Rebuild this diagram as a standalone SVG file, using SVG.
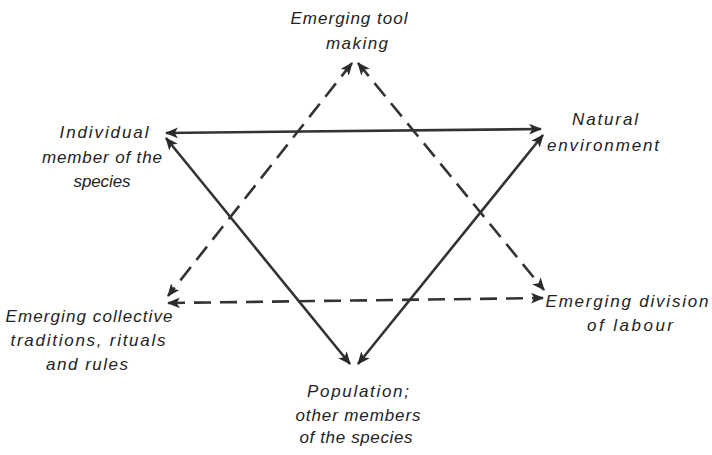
<svg xmlns="http://www.w3.org/2000/svg" width="712" height="455" viewBox="0 0 712 455">
<defs>
<style>
.lbl{font-family:"Liberation Sans","DejaVu Sans",sans-serif;font-style:italic;font-size:17px;fill:#222;text-anchor:middle}
.ln{stroke:#333;stroke-width:2.6;fill:none}
.dash{stroke-dasharray:17 9}
</style>
<marker id="ah" viewBox="0 0 12 10" refX="11" refY="5" markerWidth="13" markerHeight="11" markerUnits="userSpaceOnUse" orient="auto-start-reverse">
<path d="M0,0 L12,5 L0,10 L3,5 Z" fill="#2a2a2a"/>
</marker>
</defs>
<rect width="712" height="455" fill="#fff"/>
<g id="connectors">
<line class="ln" x1="166" y1="133" x2="541" y2="129" marker-start="url(#ah)" marker-end="url(#ah)"/>
<line class="ln" x1="166" y1="138" x2="350" y2="364" marker-start="url(#ah)" marker-end="url(#ah)"/>
<line class="ln" x1="358" y1="364" x2="543" y2="135" marker-start="url(#ah)" marker-end="url(#ah)"/>
<line class="ln dash" x1="352" y1="63" x2="168" y2="296" marker-start="url(#ah)" marker-end="url(#ah)"/>
<line class="ln dash" x1="358" y1="63" x2="544" y2="290" marker-start="url(#ah)" marker-end="url(#ah)"/>
<line class="ln dash" x1="168" y1="303" x2="543" y2="298" marker-start="url(#ah)" marker-end="url(#ah)"/>
</g>
<g id="tool">
<text class="lbl" x="349" y="24" textLength="117">Emerging tool</text>
<text class="lbl" x="357" y="49" textLength="62">making</text>
</g>
<g id="individual">
<text class="lbl" x="104" y="138" textLength="89">Individual</text>
<text class="lbl" x="102" y="163" textLength="120">member of the</text>
<text class="lbl" x="102" y="187" textLength="57">species</text>
</g>
<g id="natural">
<text class="lbl" x="605" y="125" textLength="66">Natural</text>
<text class="lbl" x="603" y="151" textLength="112">environment</text>
</g>
<g id="collective">
<text class="lbl" x="89" y="322" textLength="167">Emerging collective</text>
<text class="lbl" x="88" y="346" textLength="155">traditions, rituals</text>
<text class="lbl" x="87" y="370" textLength="82">and rules</text>
</g>
<g id="division">
<text class="lbl" x="627" y="307" textLength="163">Emerging division</text>
<text class="lbl" x="630" y="331" textLength="86">of labour</text>
</g>
<g id="population">
<text class="lbl" x="358" y="397" textLength="102">Population;</text>
<text class="lbl" x="358" y="421" textLength="125">other members</text>
<text class="lbl" x="356" y="443" textLength="113">of the species</text>
</g>
</svg>
